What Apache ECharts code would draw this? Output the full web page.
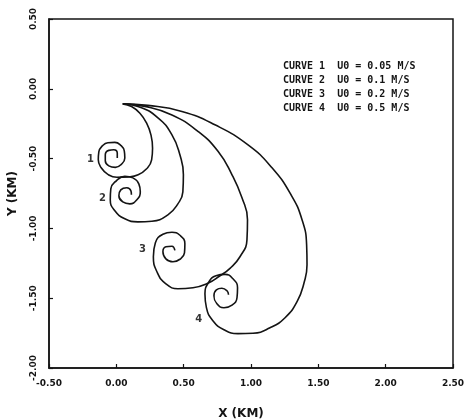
<!DOCTYPE html>
<html>
<head>
<meta charset="utf-8">
<script src="https://cdn.jsdelivr.net/npm/echarts@6/dist/echarts.min.js"></script>
<style>
html,body{margin:0;padding:0;background:#fff;}
#chart{width:469px;height:420px;}
</style>
</head>
<body>
<div id="chart"></div>
<script>
// Trajectories, X (km), Y (km)
var curve1X = [0.048,0.113,0.175,0.225,0.257,0.269,0.262,0.225,0.162,0.088,0.004,-0.063,-0.112,-0.134,-0.130,-0.104,-0.063,-0.011,0.033,0.059,0.063,0.037,-0.007,-0.056,-0.082,-0.082,-0.056,-0.019,0.007,0.007];
var curve1Y = [-0.108,-0.127,-0.175,-0.246,-0.330,-0.425,-0.509,-0.573,-0.616,-0.631,-0.634,-0.613,-0.566,-0.509,-0.452,-0.409,-0.386,-0.384,-0.405,-0.445,-0.495,-0.541,-0.563,-0.552,-0.516,-0.473,-0.441,-0.437,-0.462,-0.495];

var curve2X = [0.048,0.160,0.309,0.413,0.472,0.498,0.494,0.457,0.383,0.264,0.160,0.063,-0.011,-0.045,-0.041,0.000,0.063,0.123,0.167,0.178,0.152,0.100,0.048,0.019,0.033,0.078,0.108,0.112];
var curve2Y = [-0.108,-0.126,-0.208,-0.330,-0.473,-0.616,-0.738,-0.824,-0.903,-0.949,-0.953,-0.931,-0.874,-0.795,-0.717,-0.659,-0.627,-0.638,-0.681,-0.738,-0.795,-0.824,-0.810,-0.767,-0.724,-0.709,-0.731,-0.759];

var curve3X = [0.048,0.212,0.413,0.606,0.755,0.859,0.933,0.974,0.970,0.918,0.844,0.770,0.680,0.569,0.457,0.368,0.305,0.275,0.290,0.346,0.413,0.472,0.509,0.506,0.472,0.420,0.368,0.346,0.368,0.413,0.435];
var curve3Y = [-0.108,-0.126,-0.187,-0.305,-0.448,-0.616,-0.781,-0.938,-1.082,-1.203,-1.286,-1.339,-1.393,-1.425,-1.432,-1.397,-1.318,-1.203,-1.103,-1.042,-1.028,-1.049,-1.110,-1.175,-1.221,-1.239,-1.218,-1.168,-1.132,-1.128,-1.157];

var curve4X = [0.048,0.234,0.487,0.732,0.978,1.156,1.297,1.379,1.413,1.416,1.394,1.342,1.253,1.141,1.015,0.903,0.799,0.717,0.669,0.658,0.688,0.740,0.807,0.866,0.900,0.896,0.859,0.799,0.747,0.725,0.743,0.784,0.822,0.833];
var curve4Y = [-0.108,-0.119,-0.162,-0.258,-0.402,-0.566,-0.759,-0.938,-1.117,-1.261,-1.389,-1.525,-1.640,-1.712,-1.751,-1.754,-1.726,-1.661,-1.568,-1.468,-1.382,-1.339,-1.329,-1.361,-1.425,-1.497,-1.550,-1.568,-1.540,-1.482,-1.440,-1.429,-1.447,-1.475];

// Curve number tags
var tagText = ['1','2','3','4'];
var tagX = [-0.192,-0.103,0.195,0.611];
var tagY = [-0.509,-0.783,-1.153,-1.654];

// Legend lines
var legendLines = [
  'CURVE 1  U0 = 0.05 M/S',
  'CURVE 2  U0 = 0.1 M/S',
  'CURVE 3  U0 = 0.2 M/S',
  'CURVE 4  U0 = 0.5 M/S'
];

// Axes
var xMin = -0.5, xMax = 2.5, xStep = 0.5;
var yMin = -2.0, yMax = 0.5, yStep = 0.5;
var xName = 'X (KM)', yName = 'Y (KM)';

function zip(xs, ys){ var out=[]; for (var i=0;i<xs.length;i++) out.push([xs[i],ys[i]]); return out; }

var ink = '#141414';
var curves = [[curve1X,curve1Y],[curve2X,curve2Y],[curve3X,curve3Y],[curve4X,curve4Y]];
var series = curves.map(function(c, i){
  return {
    type:'line', name:'CURVE '+(i+1), data: zip(c[0], c[1]),
    showSymbol:false, smooth:0.5, animation:false,
    lineStyle:{color:ink, width:1.6}
  };
});
var tagData = [];
for (var i=0;i<tagText.length;i++) tagData.push({value:[tagX[i],tagY[i]], name:tagText[i]});
series.push({
  type:'scatter', data: tagData, symbolSize:0, animation:false, silent:true,
  label:{show:true, position:'inside', formatter:function(p){return p.name;},
    color:'#000', fontFamily:'DejaVu Sans', fontWeight:'bold', fontSize:10}
});

var graphics = legendLines.map(function(t, i){
  return {type:'text', left:283, top:61 + i*14, silent:true,
    style:{text:t, fill:ink, font:'bold 10px "DejaVu Sans Mono"'}};
});

var chart = echarts.init(document.getElementById('chart'), null, {renderer:'canvas'});
chart.setOption({
  backgroundColor:'#ffffff',
  animation:false,
  grid:{left:49, right:16, top:19, bottom:52, containLabel:false, outerBoundsMode:'none',
    show:true, borderColor:ink, borderWidth:1.5},
  xAxis:{type:'value', min:xMin, max:xMax, interval:xStep,
    name:xName, nameLocation:'middle', nameGap:40,
    nameTextStyle:{color:ink, fontFamily:'DejaVu Sans', fontWeight:'bold', fontSize:12, padding:[0,20,0,0]},
    axisLine:{show:true, onZero:false, lineStyle:{color:ink, width:1.5}},
    axisTick:{show:true, inside:true, length:4, lineStyle:{color:ink, width:1.2}},
    splitLine:{show:false},
    axisLabel:{color:ink, fontFamily:'DejaVu Sans', fontWeight:'bold', fontSize:9, margin:11,
      formatter:function(v){return v.toFixed(2);}}
  },
  yAxis:{type:'value', min:yMin, max:yMax, interval:yStep,
    name:yName, nameLocation:'middle', nameGap:30,
    nameTextStyle:{color:ink, fontFamily:'DejaVu Sans', fontWeight:'bold', fontSize:12},
    axisLine:{show:true, onZero:false, lineStyle:{color:ink, width:1.5}},
    axisTick:{show:true, inside:true, length:4, lineStyle:{color:ink, width:1.2}},
    splitLine:{show:false},
    axisLabel:{color:ink, fontFamily:'DejaVu Sans', fontWeight:'bold', fontSize:9, margin:11, rotate:90,
      formatter:function(v){return v.toFixed(2);}}
  },
  graphic: graphics,
  series: series
});
</script>
</body>
</html>
